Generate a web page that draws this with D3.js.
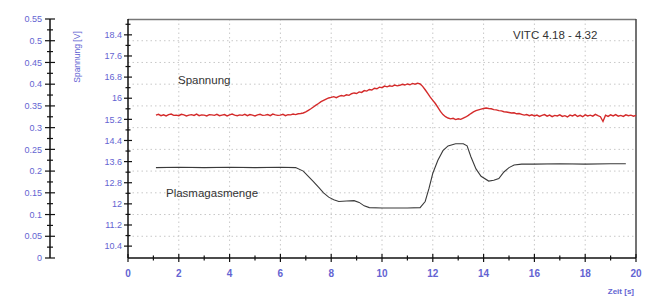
<!DOCTYPE html>
<html><head><meta charset="utf-8">
<script src="https://cdn.jsdelivr.net/npm/d3@7"></script>
<style>body{margin:0;background:#fff}svg{display:block}</style>
</head><body>
<script>
// ---- data ----
const xTicks = [0,2,4,6,8,10,12,14,16,18,20];
const leftTicks = [0,0.05,0.1,0.15,0.2,0.25,0.3,0.35,0.4,0.45,0.5,0.55];
const rightTicks = [10.4,11.2,12,12.8,13.6,14.4,15.2,16,16.8,17.6,18.4];
// Spannung [V], sampled every 0.1 s from 1.1 s to 20.0 s
const spannungStart = 1.1, spannungStep = 0.1;
const spannungV = [
 15.36,15.39,15.34,15.37,15.33,15.38,15.40,15.35,15.36,15.34,
 15.39,15.37,15.33,15.36,15.38,15.35,15.40,15.34,15.37,15.36,
 15.33,15.38,15.37,15.35,15.39,15.34,15.36,15.38,15.33,15.37,
 15.40,15.36,15.34,15.37,15.35,15.39,15.34,15.38,15.36,15.33,
 15.37,15.39,15.35,15.36,15.38,15.34,15.40,15.37,15.35,15.36,
 15.39,15.34,15.38,15.37,15.40,15.38,15.41,15.42,15.44,
 15.48,15.54,15.60,15.67,15.74,15.80,15.87,15.92,15.97,16.01,
 16.03,16.06,16.02,16.07,16.10,16.08,16.13,16.11,16.17,16.20,
 16.18,16.24,16.22,16.29,16.27,16.33,16.31,16.38,16.36,16.42,
 16.40,16.46,16.43,16.47,16.45,16.50,16.47,16.49,16.53,16.50,
 16.54,16.51,16.56,16.53,16.57,16.54,16.45,
 16.32,16.18,16.04,15.92,15.80,15.65,15.50,15.38,15.30,15.25,
 15.22,15.24,15.19,15.22,15.20,15.25,15.29,15.35,15.42,15.48,
 15.53,15.56,15.59,15.61,15.63,15.61,15.60,15.57,15.56,15.53,
 15.52,15.49,15.48,15.46,15.44,15.45,15.41,15.42,
 15.39,15.36,15.38,15.34,15.37,15.33,15.36,15.31,15.35,15.38,
 15.32,15.36,15.30,15.35,15.33,15.37,15.31,15.34,15.29,15.36,
 15.33,15.38,15.31,15.35,15.30,15.37,15.33,15.36,15.32,15.39,
 15.34,15.30,15.12,15.36,15.31,15.37,15.33,15.38,15.32,15.35,
 15.31,15.37,15.34,15.36,15.32,15.35];
const plasmaT = [1.1,2,3,4,5,6,6.6,6.9,7.1,7.3,7.5,7.7,7.9,8.1,8.3,8.6,8.9,9.1,9.3,9.5,10,10.5,11,11.5,11.7,11.85,12.0,12.2,12.4,12.6,12.9,13.2,13.35,13.5,13.7,13.9,14.2,14.4,14.6,14.8,15.0,15.2,15.5,16,17,18,19,19.6];
const plasmaV = [0.208,0.209,0.208,0.209,0.208,0.209,0.208,0.200,0.188,0.176,0.163,0.150,0.140,0.134,0.130,0.131,0.132,0.128,0.120,0.116,0.115,0.115,0.115,0.116,0.130,0.160,0.195,0.225,0.247,0.258,0.263,0.263,0.258,0.233,0.205,0.188,0.177,0.179,0.183,0.198,0.208,0.214,0.216,0.216,0.217,0.216,0.217,0.217];

// ---- chart ----
const W=653,H=296;
const svg=d3.select("body").append("svg").attr("width",W).attr("height",H);
const x=d3.scaleLinear().domain([0,20]).range([128,636]);
const yL=d3.scaleLinear().domain([0,0.55]).range([258,19]);
const yR=d3.scaleLinear().domain([9.95,19.0]).range([258,19]);
const blue="#6464d2", font="Arial, 'Liberation Sans', sans-serif";

// grid
const g=svg.append("g").attr("stroke","#c8c8c8").attr("stroke-dasharray","1.5,3").attr("stroke-width",1);
g.selectAll(".gv").data(xTicks.filter(d=>d>0&&d<20)).join("line")
 .attr("x1",d=>x(d)).attr("x2",d=>x(d)).attr("y1",19).attr("y2",258);
g.selectAll(".gh").data(leftTicks.filter(d=>d>0&&d<0.55)).join("line")
 .attr("x1",128).attr("x2",636).attr("y1",d=>yL(d)).attr("y2",d=>yL(d));

// frame
svg.append("line").attr("x1",128).attr("x2",636).attr("y1",19.5).attr("y2",19.5).attr("stroke","#777").attr("stroke-width",1.3);
svg.append("line").attr("x1",636).attr("x2",636).attr("y1",19).attr("y2",258).attr("stroke","#444").attr("stroke-width",1.5);

// x axis
const xa=svg.append("g").attr("transform","translate(0,258)");
xa.append("line").attr("x1",128).attr("x2",636).attr("stroke","#111").attr("stroke-width",1.5);
xa.selectAll(".mj").data(xTicks).join("line").attr("x1",d=>x(d)).attr("x2",d=>x(d)).attr("y1",-4).attr("y2",4).attr("stroke","#111").attr("stroke-width",1.2);
xa.selectAll(".mn").data(d3.range(1,20,2)).join("line").attr("x1",d=>x(d)).attr("x2",d=>x(d)).attr("y1",-2.5).attr("y2",2.5).attr("stroke","#111").attr("stroke-width",1.2);
xa.selectAll("text").data(xTicks).join("text").attr("x",d=>x(d)).attr("y",19).attr("text-anchor","middle")
 .attr("font-family",font).attr("font-size",10).attr("font-weight","bold").attr("fill",blue).text(d=>d);
svg.append("text").attr("x",634).attr("y",294).attr("text-anchor","end").attr("font-family",font).attr("font-size",8).attr("font-weight","bold").attr("fill",blue).text("Zeit [s]");

// left axis
const la=svg.append("g").attr("transform","translate(50,0)");
la.append("line").attr("y1",19).attr("y2",258).attr("stroke","#111").attr("stroke-width",1.5);
la.selectAll(".mj").data(leftTicks).join("line").attr("x1",-5).attr("x2",5).attr("y1",d=>yL(d)).attr("y2",d=>yL(d)).attr("stroke","#111").attr("stroke-width",1.2);
la.selectAll(".mn").data(d3.range(0.025,0.55,0.05)).join("line").attr("x1",-3).attr("x2",3).attr("y1",d=>yL(d)).attr("y2",d=>yL(d)).attr("stroke","#111").attr("stroke-width",1.2);
la.selectAll("text").data(leftTicks).join("text").attr("x",-8).attr("y",d=>yL(d)).attr("dy","0.35em").attr("text-anchor","end")
 .attr("font-family",font).attr("font-size",9).attr("fill",blue).text(d=>d);

// right value axis
const ra=svg.append("g").attr("transform","translate(128,0)");
ra.append("line").attr("y1",19).attr("y2",258).attr("stroke","#111").attr("stroke-width",1.5);
ra.selectAll(".mj").data(rightTicks).join("line").attr("x1",-4).attr("x2",4).attr("y1",d=>yR(d)).attr("y2",d=>yR(d)).attr("stroke","#111").attr("stroke-width",1.2);
ra.selectAll(".mn").data(d3.range(10.8,19,0.8)).join("line").attr("x1",-2.5).attr("x2",2.5).attr("y1",d=>yR(d)).attr("y2",d=>yR(d)).attr("stroke","#111").attr("stroke-width",1.2);
ra.selectAll("text").data(rightTicks).join("text").attr("x",-6).attr("y",d=>yR(d)).attr("dy","0.35em").attr("text-anchor","end")
 .attr("font-family",font).attr("font-size",9).attr("fill",blue).text(d=>d);
svg.append("text").attr("transform","translate(80,57) rotate(-90)").attr("text-anchor","middle")
 .attr("font-family",font).attr("font-size",8.5).attr("fill",blue).text("Spannung [V]");

// series
const red=spannungV.map((v,i)=>[spannungStart+i*spannungStep,v]);
const blk=plasmaT.map((t,i)=>[t,plasmaV[i]]);
svg.append("path").datum(red).attr("fill","none").attr("stroke","#d42a2a").attr("stroke-width",1.4)
 .attr("d",d3.line().x(d=>x(d[0])).y(d=>yR(d[1])));
svg.append("path").datum(blk).attr("fill","none").attr("stroke","#3a3a3a").attr("stroke-width",1.1)
 .attr("d",d3.line().x(d=>x(d[0])).y(d=>yL(d[1])));

// labels
svg.append("text").attr("x",178).attr("y",84).attr("font-family",font).attr("font-size",11.5).attr("fill","#333").text("Spannung");
svg.append("text").attr("x",166).attr("y",197).attr("font-family",font).attr("font-size",11.5).attr("fill","#333").text("Plasmagasmenge");
svg.append("text").attr("x",513).attr("y",39).attr("font-family",font).attr("font-size",11.5).attr("fill","#333").text("VITC 4.18 - 4.32");
</script>
</body></html>
